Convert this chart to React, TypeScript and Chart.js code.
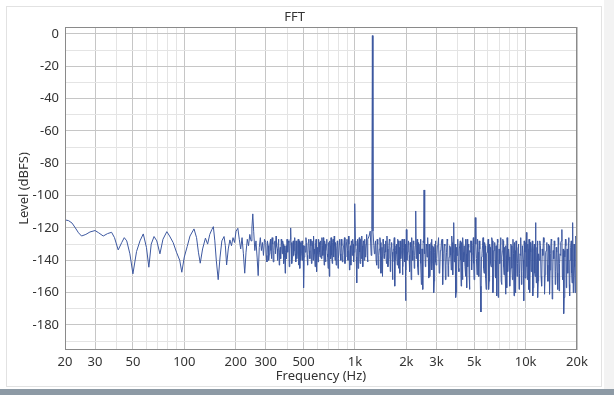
import React, { useEffect, useRef } from "react";
import { Chart, registerables } from "chart.js";

Chart.register(...registerables);

// [frequency Hz, level dBFS]
const lowBand: number[][] = [
  [20, -115], [21, -115.5], [22, -117], [23, -120], [24, -123], [25, -125], [26.5, -124], [28, -122.5],
  [30, -121.6], [31.5, -123], [33.5, -125], [35.5, -123.5], [37.5, -122.7], [39, -126], [41, -133.6],
  [43, -129], [44.5, -126], [46, -128], [48, -136], [50, -148.4], [52.5, -134.6], [55, -128], [57.5, -123.7],
  [60, -132], [62, -144.3], [64, -130], [66.5, -125.3], [69, -128], [72, -136], [75, -127], [79, -122.3],
  [82, -125], [86, -129], [90, -135], [94, -140], [96.7, -147.4], [100, -138], [104, -131.5], [108, -125],
  [114, -120.6], [118, -126], [121, -135], [124, -141.8], [128, -133], [133, -126.3], [137, -130], [141, -124],
  [145, -121], [148, -119.2], [151, -128], [154, -140], [158, -152], [162, -138], [166, -128], [171, -125.3],
  [174, -131], [177, -142.9], [181, -133], [185, -127.4], [189, -131], [193, -126], [197, -129], [201, -122],
  [206, -120.2], [210, -127], [214, -133], [218, -126], [222, -136], [226, -148], [230, -135], [234, -127],
  [238, -131], [242, -124], [246, -128], [249, -120], [252, -111.3], [255, -122], [259, -134], [263, -128],
  [267, -138], [271, -149.5], [275, -132], [279, -126], [283, -134], [287, -129], [291, -137], [295, -127],
];

const midBand: number[][] = [
  [300, -129], [305, -141], [310, -131], [315, -136], [320, -127], [325, -139], [330, -130], [335, -134],
  [340, -128], [345, -125], [350, -133], [355, -129], [360, -143], [365, -132], [370, -127], [375, -136],
  [380, -130], [385, -138], [390, -148], [395, -131], [400, -127], [405, -135], [410, -129], [415, -133],
  [420, -120], [425, -131], [430, -138], [435, -128], [440, -134], [445, -126], [450, -141], [455, -130],
  [460, -135], [465, -127], [470, -132], [475, -145], [480, -129], [485, -136], [490, -128], [495, -140],
  [500, -157], [508, -131], [516, -126], [524, -137], [532, -129], [540, -134], [548, -127], [556, -142],
  [564, -130], [572, -125], [580, -136], [588, -129], [596, -147], [604, -132], [612, -127], [620, -135],
  [628, -128], [636, -139], [644, -131], [652, -126], [660, -143], [668, -130], [676, -134], [684, -127],
  [692, -138], [700, -129], [708, -150], [716, -131], [724, -126], [732, -137], [740, -129], [748, -133],
  [756, -125], [764, -140], [772, -131], [780, -136], [788, -128], [796, -145], [808, -130], [820, -136],
  [832, -127], [844, -141], [856, -131], [868, -126], [880, -138], [892, -129], [904, -134], [916, -125],
  [928, -146], [940, -131], [952, -128], [964, -137], [976, -130], [988, -135], [1000, -105], [1012, -131],
  [1024, -154], [1036, -127], [1048, -133], [1060, -126], [1072, -142], [1084, -130], [1096, -125], [1108, -136],
  [1120, -128], [1132, -140], [1144, -127], [1156, -133], [1168, -124], [1180, -137], [1192, -127],
];

const midFill: number[][] = [
  [302, -137], [307, -128], [312, -140], [317, -130], [322, -134], [327, -126], [332, -141], [337, -129],
  [342, -136], [347, -131], [352, -140], [357, -127], [362, -135], [367, -139], [372, -130], [377, -128],
  [382, -142], [387, -131], [392, -135], [397, -139], [402, -131], [407, -128], [412, -144], [417, -127],
  [422, -129], [427, -142], [432, -130], [437, -137], [442, -129], [447, -136], [452, -128], [457, -139],
  [462, -130], [467, -143], [472, -128], [477, -133], [482, -140], [487, -129], [492, -134], [497, -131],
  [504, -138], [512, -135], [520, -129], [528, -143], [536, -127], [544, -139], [552, -131], [560, -128],
  [568, -140], [576, -133], [584, -144], [592, -127], [600, -136], [608, -141], [616, -129], [624, -138],
  [632, -131], [640, -126], [648, -137], [656, -134], [664, -128], [672, -141], [680, -131], [688, -136],
  [696, -145], [704, -132], [712, -128], [720, -139], [728, -130], [736, -142], [744, -127], [752, -138],
  [760, -131], [768, -129], [776, -143], [784, -133], [792, -130], [800, -139], [814, -127], [826, -140],
  [838, -131], [850, -137], [862, -129], [874, -142], [886, -133], [898, -127], [910, -140], [922, -130],
  [934, -136], [946, -143], [958, -129], [970, -127], [982, -141], [994, -130], [1006, -128], [1018, -138],
  [1030, -133], [1042, -145], [1054, -130], [1066, -135], [1078, -127], [1090, -139], [1102, -131], [1114, -144],
  [1126, -129], [1138, -135], [1150, -138], [1162, -130], [1174, -128], [1186, -141],
];

const peakBand: number[][] = [
  [1210, -125], [1228, -122], [1245, -137], [1255, -121], [1265, -1], [1275, -122], [1290, -131],
];

const highBand: number[][] = [
  [1300, -136], [1320, -128], [1340, -143], [1360, -130], [1380, -137], [1400, -126], [1420, -148], [1440, -132],
  [1460, -127], [1480, -139], [1500, -130], [1520, -135], [1540, -125], [1560, -144], [1580, -131], [1600, -128],
  [1620, -138], [1640, -129], [1660, -152], [1680, -133], [1700, -126], [1720, -140], [1740, -131], [1760, -136],
  [1780, -127], [1800, -145], [1820, -132], [1840, -128], [1860, -139], [1880, -130], [1900, -149], [1920, -134],
  [1940, -127], [1960, -141], [1980, -165], [2000, -121], [2030, -135], [2060, -128], [2090, -147], [2120, -132],
  [2150, -126], [2180, -140], [2210, -130], [2240, -137], [2270, -109.5], [2300, -131], [2330, -144], [2360, -129],
  [2390, -136], [2420, -127], [2450, -155], [2480, -133], [2510, -128], [2540, -96.5], [2570, -130], [2600, -142],
  [2630, -131], [2660, -126], [2690, -139], [2720, -130], [2750, -150], [2780, -134], [2810, -127], [2840, -141],
  [2870, -132], [2900, -160], [2930, -135], [2960, -128], [2990, -143], [3040, -131], [3090, -126], [3140, -146],
  [3190, -133], [3240, -127], [3290, -140], [3340, -130], [3390, -152], [3440, -135], [3490, -128], [3540, -143],
  [3590, -131], [3640, -137], [3690, -125], [3740, -149], [3790, -116.7], [3840, -138], [3890, -163], [3940, -132],
  [3990, -127], [4040, -145], [4090, -133], [4140, -128], [4190, -156], [4240, -134], [4290, -126], [4340, -141],
  [4390, -131], [4440, -150], [4490, -136], [4540, -127], [4590, -144], [4640, -132], [4690, -158], [4740, -135],
  [4790, -128], [4840, -146], [4890, -133], [4940, -126], [4990, -152], [5070, -113.6], [5150, -139], [5230, -127],
  [5310, -150], [5390, -133], [5470, -172], [5550, -136], [5630, -126], [5710, -148], [5790, -131], [5870, -158],
  [5950, -135], [6030, -127], [6110, -153], [6190, -132], [6270, -144], [6350, -126], [6430, -160], [6510, -134],
  [6590, -129], [6670, -151], [6750, -136], [6830, -127], [6910, -163], [6990, -133], [7070, -142], [7150, -126],
  [7230, -155], [7310, -134], [7390, -128], [7470, -149], [7550, -132], [7630, -161], [7710, -137], [7790, -126],
  [7870, -147], [7950, -133], [8070, -156], [8190, -130], [8310, -145], [8430, -127], [8550, -162], [8670, -134],
  [8790, -128], [8910, -150], [9030, -132], [9150, -158], [9270, -136], [9390, -126], [9510, -147], [9630, -131],
  [9750, -165], [9870, -135], [9990, -129], [10110, -122.8], [10230, -152], [10350, -133], [10470, -127], [10590, -160],
  [10710, -135], [10830, -145], [10950, -128], [11070, -157], [11190, -133], [11310, -148], [11430, -116.7], [11550, -154],
  [11670, -132], [11790, -163], [11910, -136], [12110, -128], [12310, -150], [12510, -133], [12710, -126], [12910, -161],
  [13110, -135], [13310, -129], [13510, -153], [13710, -131], [13910, -146], [14110, -127], [14310, -164], [14510, -134],
  [14710, -128], [14910, -155], [15110, -132], [15310, -148], [15510, -126], [15710, -159], [15910, -136], [16110, -129],
  [16310, -121], [16510, -152], [16710, -173], [16910, -134], [17110, -127], [17310, -157], [17510, -133], [17710, -148],
  [17910, -126], [18110, -162], [18310, -135], [18510, -128], [18710, -154], [18910, -116.7], [19110, -150], [19310, -131],
  [19510, -160], [19710, -125], [19910, -162],
];

const highFill: number[][] = [
  [1310, -131], [1330, -140], [1350, -127], [1370, -145], [1390, -133], [1410, -129], [1430, -138], [1450, -150],
  [1470, -130], [1490, -136], [1510, -128], [1530, -142], [1550, -133], [1570, -139], [1590, -127], [1610, -147],
  [1630, -132], [1650, -135], [1670, -141], [1690, -129], [1710, -156], [1730, -134], [1750, -130], [1770, -143],
  [1790, -128], [1810, -137], [1830, -148], [1850, -131], [1870, -135], [1890, -127], [1910, -144], [1930, -132],
  [1950, -139], [1970, -130], [1990, -146],
  [2015, -140], [2045, -131], [2075, -137], [2105, -129], [2135, -152], [2165, -134], [2195, -128], [2225, -145],
  [2255, -131], [2285, -139], [2315, -127], [2345, -149], [2375, -135], [2405, -130], [2435, -142], [2465, -133],
  [2495, -158], [2525, -129], [2555, -136], [2585, -144], [2615, -130], [2645, -138], [2675, -127], [2705, -151],
  [2735, -134], [2765, -140], [2795, -129], [2825, -146], [2855, -131], [2885, -137], [2915, -153], [2945, -130],
  [2975, -141],
  [3015, -139], [3065, -130], [3115, -148], [3165, -134], [3215, -128], [3265, -155], [3315, -136], [3365, -131],
  [3415, -143], [3465, -127], [3515, -150], [3565, -138], [3615, -132], [3665, -146], [3715, -129], [3765, -135],
  [3815, -141], [3865, -130], [3915, -160], [3965, -137], [4015, -128], [4065, -147], [4115, -133], [4165, -140],
  [4215, -129], [4265, -152], [4315, -135], [4365, -131], [4415, -144], [4465, -127], [4515, -157], [4565, -138],
  [4615, -130], [4665, -149], [4715, -134], [4765, -128], [4815, -145], [4865, -136], [4915, -131], [4965, -142],
  [5030, -141], [5110, -130], [5190, -149], [5270, -135], [5350, -128], [5430, -156], [5510, -138], [5590, -131],
  [5670, -145], [5750, -129], [5830, -151], [5910, -136], [5990, -133], [6070, -158], [6150, -130], [6230, -142],
  [6310, -137], [6390, -128], [6470, -150], [6550, -134], [6630, -140], [6710, -131], [6790, -162], [6870, -129],
  [6950, -146], [7030, -135], [7110, -130], [7190, -153], [7270, -138], [7350, -127], [7430, -144], [7510, -133],
  [7590, -149], [7670, -131], [7750, -157], [7830, -136], [7910, -140],
  [8010, -138], [8130, -145], [8250, -131], [8370, -152], [8490, -136], [8610, -129], [8730, -160], [8850, -134],
  [8970, -142], [9090, -130], [9210, -148], [9330, -137], [9450, -155], [9570, -131], [9690, -140], [9810, -128],
  [9930, -151], [10050, -135], [10170, -144], [10290, -130], [10410, -158], [10530, -136], [10650, -129], [10770, -147],
  [10890, -133], [11010, -162], [11130, -138], [11250, -130], [11370, -150], [11490, -135], [11610, -141], [11730, -128],
  [11850, -153],
  [12010, -140], [12210, -131], [12410, -156], [12610, -137], [12810, -129], [13010, -149], [13210, -134], [13410, -143],
  [13610, -130], [13810, -161], [14010, -136], [14210, -128], [14410, -152], [14610, -139], [14810, -131], [15010, -147],
  [15210, -135], [15410, -158], [15610, -130], [15810, -142], [16010, -137], [16210, -128], [16410, -150], [16610, -133],
  [16810, -163], [17010, -138], [17210, -131], [17410, -146], [17610, -135], [17810, -129], [18010, -155], [18210, -140],
  [18410, -132], [18610, -148], [18810, -136], [19010, -160], [19210, -130], [19410, -144], [19610, -138], [19810, -127],
];

const xTickValues = [20, 30, 40, 50, 60, 70, 80, 90, 100, 200, 300, 400, 500, 600, 700, 800, 900,
  1000, 2000, 3000, 4000, 5000, 6000, 7000, 8000, 9000, 10000, 20000];
const xLabelled = [20, 30, 50, 100, 200, 300, 500, 1000, 2000, 3000, 5000, 10000, 20000];
const xLabelText = ["20", "30", "50", "100", "200", "300", "500", "1k", "2k", "3k", "5k", "10k", "20k"];
const yTickValues = [-190, -180, -170, -160, -150, -140, -130, -120, -110, -100, -90, -80, -70, -60, -50, -40, -30, -20, -10, 0];

const FONT = "'Noto Sans', 'DejaVu Sans', sans-serif";

export default function App() {
  const ref = useRef<HTMLCanvasElement | null>(null);

  useEffect(() => {
    document.body.style.margin = "0";
    const canvas = ref.current;
    if (!canvas) return;
    const points = [...lowBand, ...midBand, ...midFill, ...peakBand, ...highBand, ...highFill]
      .slice()
      .sort((a, b) => a[0] - b[0])
      .map(([f, v]) => ({ x: f, y: v }));

    const frame = {
      id: "frame",
      afterDraw(chart: any) {
        const { ctx, chartArea } = chart;
        ctx.save();
        ctx.strokeStyle = "#8a8a8a";
        ctx.lineWidth = 1;
        ctx.strokeRect(
          Math.round(chartArea.left) + 0.5,
          Math.round(chartArea.top) + 0.5,
          Math.round(chartArea.right - chartArea.left) - 1,
          Math.round(chartArea.bottom - chartArea.top) - 1
        );
        ctx.restore();
      },
    };

    const chart = new Chart(canvas, {
      type: "line",
      data: {
        datasets: [
          {
            data: points,
            borderColor: "#3d58a0",
            borderWidth: 1,
            pointRadius: 0,
            tension: 0,
            fill: false,
          },
        ],
      },
      options: {
        animation: false,
        responsive: false,
        devicePixelRatio: 1,
        layout: { padding: { top: 4, left: 12, right: 37, bottom: 10 } },
        plugins: {
          legend: { display: false },
          tooltip: { enabled: false },
          title: {
            display: true,
            text: "FFT",
            color: "#333",
            font: { family: FONT, size: 13, weight: "normal", lineHeight: 1.2 },
            padding: { top: 5.2, bottom: 2.2 },
          },
        },
        scales: {
          x: {
            type: "logarithmic",
            min: 20,
            max: 20000,
            afterBuildTicks: (scale: any) => {
              scale.ticks = xTickValues.map((v) => ({ value: v }));
            },
            afterFit: (scale: any) => {
              scale.height = 35;
            },
            ticks: {
              autoSkip: false,
              maxRotation: 0,
              padding: 4,
              color: "#333",
              font: { family: FONT, size: 13, lineHeight: 1.2 },
              callback: (value: any) => {
                const i = xLabelled.indexOf(Number(value));
                return i >= 0 ? xLabelText[i] : "";
              },
            },
            grid: {
              drawTicks: false,
              color: (c: any) => (c.tick && xLabelled.includes(c.tick.value) ? "#c6c6c6" : "#e4e4e4"),
            },
            border: { display: false },
            title: {
              display: true,
              text: "Frequency (Hz)",
              color: "#333",
              font: { family: FONT, size: 13, lineHeight: 1.2 },
              padding: { top: 0, bottom: 0.6 },
            },
          },
          y: {
            type: "linear",
            min: -195.5,
            max: 4.3,
            afterBuildTicks: (scale: any) => {
              scale.ticks = yTickValues.map((v) => ({ value: v }));
            },
            afterFit: (scale: any) => {
              scale.width = 53;
            },
            ticks: {
              autoSkip: false,
              padding: 6,
              color: "#333",
              font: { family: FONT, size: 13, lineHeight: 1.2 },
              callback: (value: any) => (Math.abs(Number(value)) % 20 === 0 ? String(value) : ""),
            },
            grid: {
              drawTicks: false,
              color: (c: any) => (c.tick && Math.abs(c.tick.value) % 20 === 0 ? "#c6c6c6" : "#e4e4e4"),
            },
            border: { display: false },
            title: {
              display: true,
              text: "Level (dBFS)",
              color: "#333",
              font: { family: FONT, size: 13, lineHeight: 1.2 },
              padding: { top: 4.2, bottom: 0 },
            },
          },
        },
      },
      plugins: [frame],
    } as any);

    return () => chart.destroy();
  }, []);

  return (
    <div style={{ position: "relative", width: 614, height: 395, background: "#ffffff", overflow: "hidden" }}>
      <div
        style={{
          position: "absolute",
          left: 6,
          top: 6,
          width: 596,
          height: 381,
          border: "1px solid #e2e2e2",
          boxSizing: "border-box",
        }}
      />
      <div style={{ position: "absolute", left: 604, top: 0, width: 10, height: 389, background: "#f3f3f3" }} />
      <div style={{ position: "absolute", left: 0, top: 389, width: 614, height: 6, background: "#8d9aa5" }} />
      <canvas ref={ref} width={614} height={395} style={{ position: "absolute", left: 0, top: 0, width: 614, height: 395 }} />
    </div>
  );
}
